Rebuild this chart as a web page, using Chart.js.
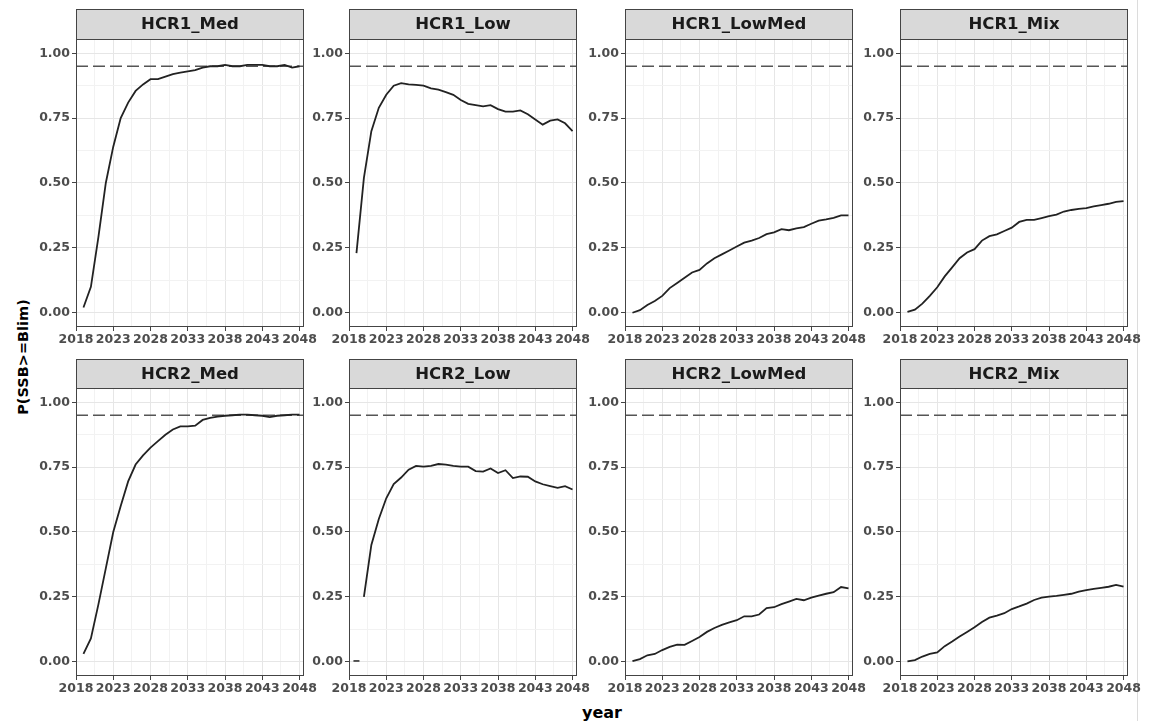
<!DOCTYPE html>
<html>
<head>
<meta charset="utf-8">
<script src="https://cdn.jsdelivr.net/npm/chart.js@4.4.0/dist/chart.umd.min.js"></script>
<style>
  body { margin: 0; background: #fff; width: 1149px; height: 721px; position: relative; overflow: hidden; }
  canvas.panel { position: absolute; }
  #ytitle { position: absolute; left: 23px; top: 357px; transform: translate(-50%, -50%) rotate(-90deg);
            font: bold 14.5px "DejaVu Sans"; color: #000; white-space: nowrap; }
  #xtitle { position: absolute; left: 602px; top: 712px; transform: translate(-50%, -50%);
            font: bold 16px "DejaVu Sans"; color: #000; }
  #edge { position: absolute; left: 1137px; top: 0; width: 1px; height: 721px; background: #dcdcdc; }
</style>
</head>
<body>
<div id="ytitle">P(SSB&gt;=Blim)</div>
<div id="xtitle">year</div>
<div id="edge"></div>
<script>
// --- data ---
const years = [2019, 2020, 2021, 2022, 2023, 2024, 2025, 2026, 2027, 2028,
               2029, 2030, 2031, 2032, 2033, 2034, 2035, 2036, 2037, 2038,
               2039, 2040, 2041, 2042, 2043, 2044, 2045, 2046, 2047, 2048];

const panelNames = ['HCR1_Med', 'HCR1_Low', 'HCR1_LowMed', 'HCR1_Mix',
                    'HCR2_Med', 'HCR2_Low', 'HCR2_LowMed', 'HCR2_Mix'];

const hcr1Med = [0.02, 0.10, 0.29, 0.50, 0.64, 0.75, 0.81, 0.855, 0.88, 0.90,
                 0.90, 0.91, 0.92, 0.925, 0.93, 0.935, 0.945, 0.95, 0.95, 0.955,
                 0.95, 0.95, 0.955, 0.955, 0.955, 0.95, 0.95, 0.955, 0.945, 0.95];
const hcr1Low = [0.23, 0.52, 0.70, 0.79, 0.84, 0.875, 0.885, 0.88, 0.878, 0.875,
                 0.865, 0.86, 0.85, 0.84, 0.82, 0.805, 0.80, 0.795, 0.80, 0.785,
                 0.775, 0.775, 0.78, 0.765, 0.745, 0.725, 0.74, 0.745, 0.73, 0.70];
const hcr1LowMed = [0.00, 0.01, 0.03, 0.045, 0.065, 0.095, 0.115, 0.135, 0.155, 0.165,
                    0.19, 0.21, 0.225, 0.24, 0.255, 0.27, 0.278, 0.288, 0.303, 0.31,
                    0.322, 0.318, 0.325, 0.33, 0.343, 0.355, 0.36, 0.366, 0.375, 0.375];
const hcr1Mix = [0.003, 0.012, 0.035, 0.065, 0.098, 0.14, 0.175, 0.21, 0.232, 0.245,
                 0.278, 0.295, 0.302, 0.315, 0.328, 0.35, 0.358, 0.358, 0.365, 0.372,
                 0.378, 0.39, 0.396, 0.40, 0.403, 0.41, 0.415, 0.42, 0.427, 0.43];
const hcr2Med = [0.03, 0.09, 0.22, 0.36, 0.50, 0.60, 0.695, 0.76, 0.795, 0.825,
                 0.85, 0.875, 0.895, 0.907, 0.907, 0.91, 0.932, 0.94, 0.945, 0.948,
                 0.95, 0.952, 0.952, 0.95, 0.948, 0.943, 0.948, 0.95, 0.952, 0.952];
const hcr2Low = [0.003, 0.25, 0.45, 0.55, 0.63, 0.685, 0.71, 0.74, 0.755, 0.752,
                 0.755, 0.762, 0.76, 0.755, 0.752, 0.752, 0.735, 0.733, 0.745, 0.727,
                 0.738, 0.708, 0.714, 0.713, 0.695, 0.684, 0.677, 0.67, 0.677, 0.664];
const hcr2LowMed = [0.002, 0.01, 0.025, 0.03, 0.045, 0.057, 0.066, 0.065, 0.08, 0.095,
                    0.115, 0.13, 0.142, 0.152, 0.16, 0.175, 0.175, 0.182, 0.207, 0.21,
                    0.222, 0.232, 0.242, 0.237, 0.247, 0.255, 0.262, 0.268, 0.288, 0.283];
const hcr2Mix = [0.001, 0.006, 0.02, 0.03, 0.036, 0.06, 0.078, 0.097, 0.115, 0.133,
                 0.153, 0.17, 0.178, 0.187, 0.203, 0.213, 0.224, 0.238, 0.247, 0.251,
                 0.254, 0.258, 0.262, 0.27, 0.276, 0.281, 0.285, 0.289, 0.296, 0.289];

const panelValues = [hcr1Med, hcr1Low, hcr1LowMed, hcr1Mix, hcr2Med, hcr2Low, hcr2LowMed, hcr2Mix];
// points that stand on their own (not joined to the next one)
const isolatedPoints = { HCR2_Low: [0] };

const xTicks = [2018, 2023, 2028, 2033, 2038, 2043, 2048];
const xMinor = [2020.5, 2025.5, 2030.5, 2035.5, 2040.5, 2045.5];
const yTicks = [0, 0.25, 0.5, 0.75, 1];
const yMinor = [0.125, 0.375, 0.625, 0.875];
const blimTarget = 0.95;

// --- layout of the facet grid ---
const colLeft = [76, 349, 625, 900];
const plotW = 228;
const rowTop = [9, 359];
const stripH = [30, 29];
const plotH = 288;
const axisW = 52, axisH = 24, padR = 24;

const FONT = '"DejaVu Sans", sans-serif';

const facetPlugin = {
    id: 'facet',
    afterDraw(chart, args, opts) {
        const { ctx, chartArea: a } = chart;
        const sh = opts.stripH;
        ctx.save();
        ctx.fillStyle = '#d9d9d9';
        ctx.fillRect(a.left, a.top - sh, a.right - a.left, sh);
        ctx.strokeStyle = '#444';
        ctx.lineWidth = 1;
        ctx.strokeRect(a.left + 0.5, a.top - sh + 0.5, a.right - a.left - 1, sh);
        ctx.strokeRect(a.left + 0.5, a.top + 0.5, a.right - a.left - 1, a.bottom - a.top - 1);
        ctx.fillStyle = '#1a1a1a';
        ctx.font = 'bold 16.5px ' + FONT;
        ctx.textAlign = 'center';
        ctx.textBaseline = 'middle';
        ctx.fillText(opts.title, (a.left + a.right) / 2, a.top - sh / 2 + 1);
        ctx.restore();
    }
};

function fixedAxis(size, horizontal) {
    return scale => {
        if (horizontal) scale.height = size; else scale.width = size;
        scale.paddingLeft = 0; scale.paddingRight = 0;
        scale.paddingTop = 0; scale.paddingBottom = 0;
    };
}

function makeTicks(major, minor) {
    return scale => {
        scale.ticks = major.concat(minor).sort((a, b) => a - b).map(v => ({ value: v }));
    };
}

panelNames.forEach((name, i) => {
    const row = Math.floor(i / 4), col = i % 4;
    const vals = panelValues[i];
    const lone = isolatedPoints[name] || [];

    const canvas = document.createElement('canvas');
    canvas.className = 'panel';
    const w = axisW + plotW + padR;
    const h = stripH[row] + plotH + axisH;
    canvas.width = w; canvas.height = h;
    canvas.style.left = (colLeft[col] - axisW) + 'px';
    canvas.style.top = rowTop[row] + 'px';
    canvas.style.width = w + 'px'; canvas.style.height = h + 'px';
    document.body.appendChild(canvas);

    const tickFont = { family: FONT, size: 12.5, weight: 'bold' };

    new Chart(canvas.getContext('2d'), {
        type: 'line',
        data: {
            datasets: [
                {
                    data: years.map((x, k) => ({ x, y: vals[k] })),
                    borderColor: '#222',
                    borderWidth: 1.8,
                    pointRadius: c => lone.includes(c.dataIndex) ? 3 : 0,
                    pointStyle: 'line',
                    pointBorderColor: '#222',
                    pointBorderWidth: 1.5,
                    tension: 0,
                    segment: {
                        borderColor: c => lone.includes(c.p0DataIndex) ? 'transparent' : undefined
                    }
                },
                {
                    data: [{ x: 2018, y: blimTarget }, { x: 2048.6, y: blimTarget }],
                    borderColor: '#555',
                    borderWidth: 1.6,
                    borderDash: [12, 5],
                    pointRadius: 0
                }
            ]
        },
        options: {
            responsive: false,
            animation: false,
            devicePixelRatio: 1,
            layout: { padding: { top: stripH[row], right: padR, left: 0, bottom: 0 } },
            plugins: {
                legend: { display: false },
                tooltip: { enabled: false },
                facet: { title: name, stripH: stripH[row] }
            },
            scales: {
                x: {
                    type: 'linear',
                    min: 2018,
                    max: 2048.6,
                    afterBuildTicks: makeTicks(xTicks, xMinor),
                    afterFit: fixedAxis(axisH, true),
                    border: { display: false },
                    grid: {
                        color: c => xTicks.includes(c.tick.value) ? '#e6e6e6' : '#f2f2f2',
                        tickColor: c => xTicks.includes(c.tick.value) ? '#444' : 'rgba(0,0,0,0)',
                        tickLength: 4
                    },
                    ticks: {
                        autoSkip: false,
                        maxRotation: 0,
                        padding: 1,
                        color: '#4d4d4d',
                        font: tickFont,
                        callback: v => xTicks.includes(v) ? String(v) : ''
                    }
                },
                y: {
                    min: -0.055,
                    max: 1.055,
                    afterBuildTicks: makeTicks(yTicks, yMinor),
                    afterFit: fixedAxis(axisW, false),
                    border: { display: false },
                    grid: {
                        color: c => yTicks.includes(c.tick.value) ? '#e6e6e6' : '#f2f2f2',
                        tickColor: c => yTicks.includes(c.tick.value) ? '#444' : 'rgba(0,0,0,0)',
                        tickLength: 4
                    },
                    ticks: {
                        autoSkip: false,
                        padding: 2,
                        color: '#4d4d4d',
                        font: tickFont,
                        callback: v => yTicks.includes(v) ? v.toFixed(2) : ''
                    }
                }
            }
        },
        plugins: [facetPlugin]
    });
});
</script>
</body>
</html>
